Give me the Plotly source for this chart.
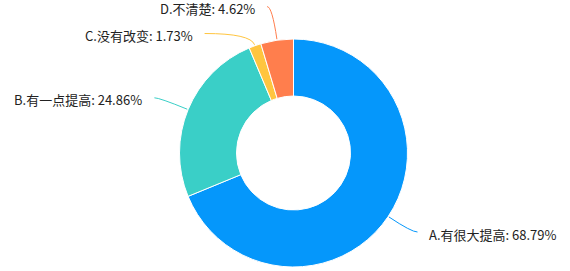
import math
import plotly.graph_objects as go

labels = ["A.有很大提高", "B.有一点提高", "C.没有改变", "D.不清楚"]
values = [68.79, 24.86, 1.73, 4.62]
colors = ["#0597FB", "#3ACFC7", "#FFC53F", "#FF7E4D"]

W, H = 570, 271
CX, CY, R = 293.5, 153.0, 114.0
# leader line layout: (radial length, horizontal length)
leader = [(27, 6), (30, 5), (12, 46), (33, 5)]
GAP = 10

fig = go.Figure()
fig.add_trace(go.Pie(
    labels=labels, values=values, sort=False, direction="clockwise", rotation=0,
    hole=0.5, textinfo="none", marker=dict(colors=colors, line=dict(color="white", width=1)),
    domain=dict(x=[(CX - R) / W, (CX + R) / W], y=[(H - CY - R) / H, (H - CY + R) / H]),
    showlegend=False,
))

total = sum(values)
cum = 0.0
shapes, annotations = [], []
for lab, v, c, (l1, l2) in zip(labels, values, colors, leader):
    mid = (cum + v / 2) / total * 2 * math.pi
    cum += v
    dx, dy = math.sin(mid), -math.cos(mid)
    sx, sy = CX + (R + 1) * dx, CY + (R + 1) * dy
    ex, ey = sx + l1 * dx, sy + l1 * dy
    side = 1 if dx > 0 else -1
    fx, fy = ex + side * l2, ey
    shapes.append(dict(type="path", xref="x", yref="y",
                       path=f"M {sx:.1f},{sy:.1f} Q {ex:.1f},{ey:.1f} {fx:.1f},{fy:.1f}",
                       line=dict(color=c, width=1)))
    annotations.append(dict(x=fx + side * GAP, y=fy, xref="x", yref="y",
                            text=f"{lab}: {v:.2f}%", showarrow=False,
                            xanchor="left" if side > 0 else "right", yanchor="middle",
                            yshift=-2,
                            font=dict(size=13, color="#222")))

fig.update_layout(
    width=W, height=H, margin=dict(l=0, r=0, t=0, b=0),
    paper_bgcolor="white", plot_bgcolor="rgba(0,0,0,0)",
    font=dict(family="Noto Sans CJK SC, Microsoft YaHei, sans-serif"),
    xaxis=dict(range=[0, W], visible=False, domain=[0, 1], fixedrange=True),
    yaxis=dict(range=[H, 0], visible=False, domain=[0, 1], fixedrange=True),
    shapes=shapes, annotations=annotations,
)
fig.write_html("out.html")
